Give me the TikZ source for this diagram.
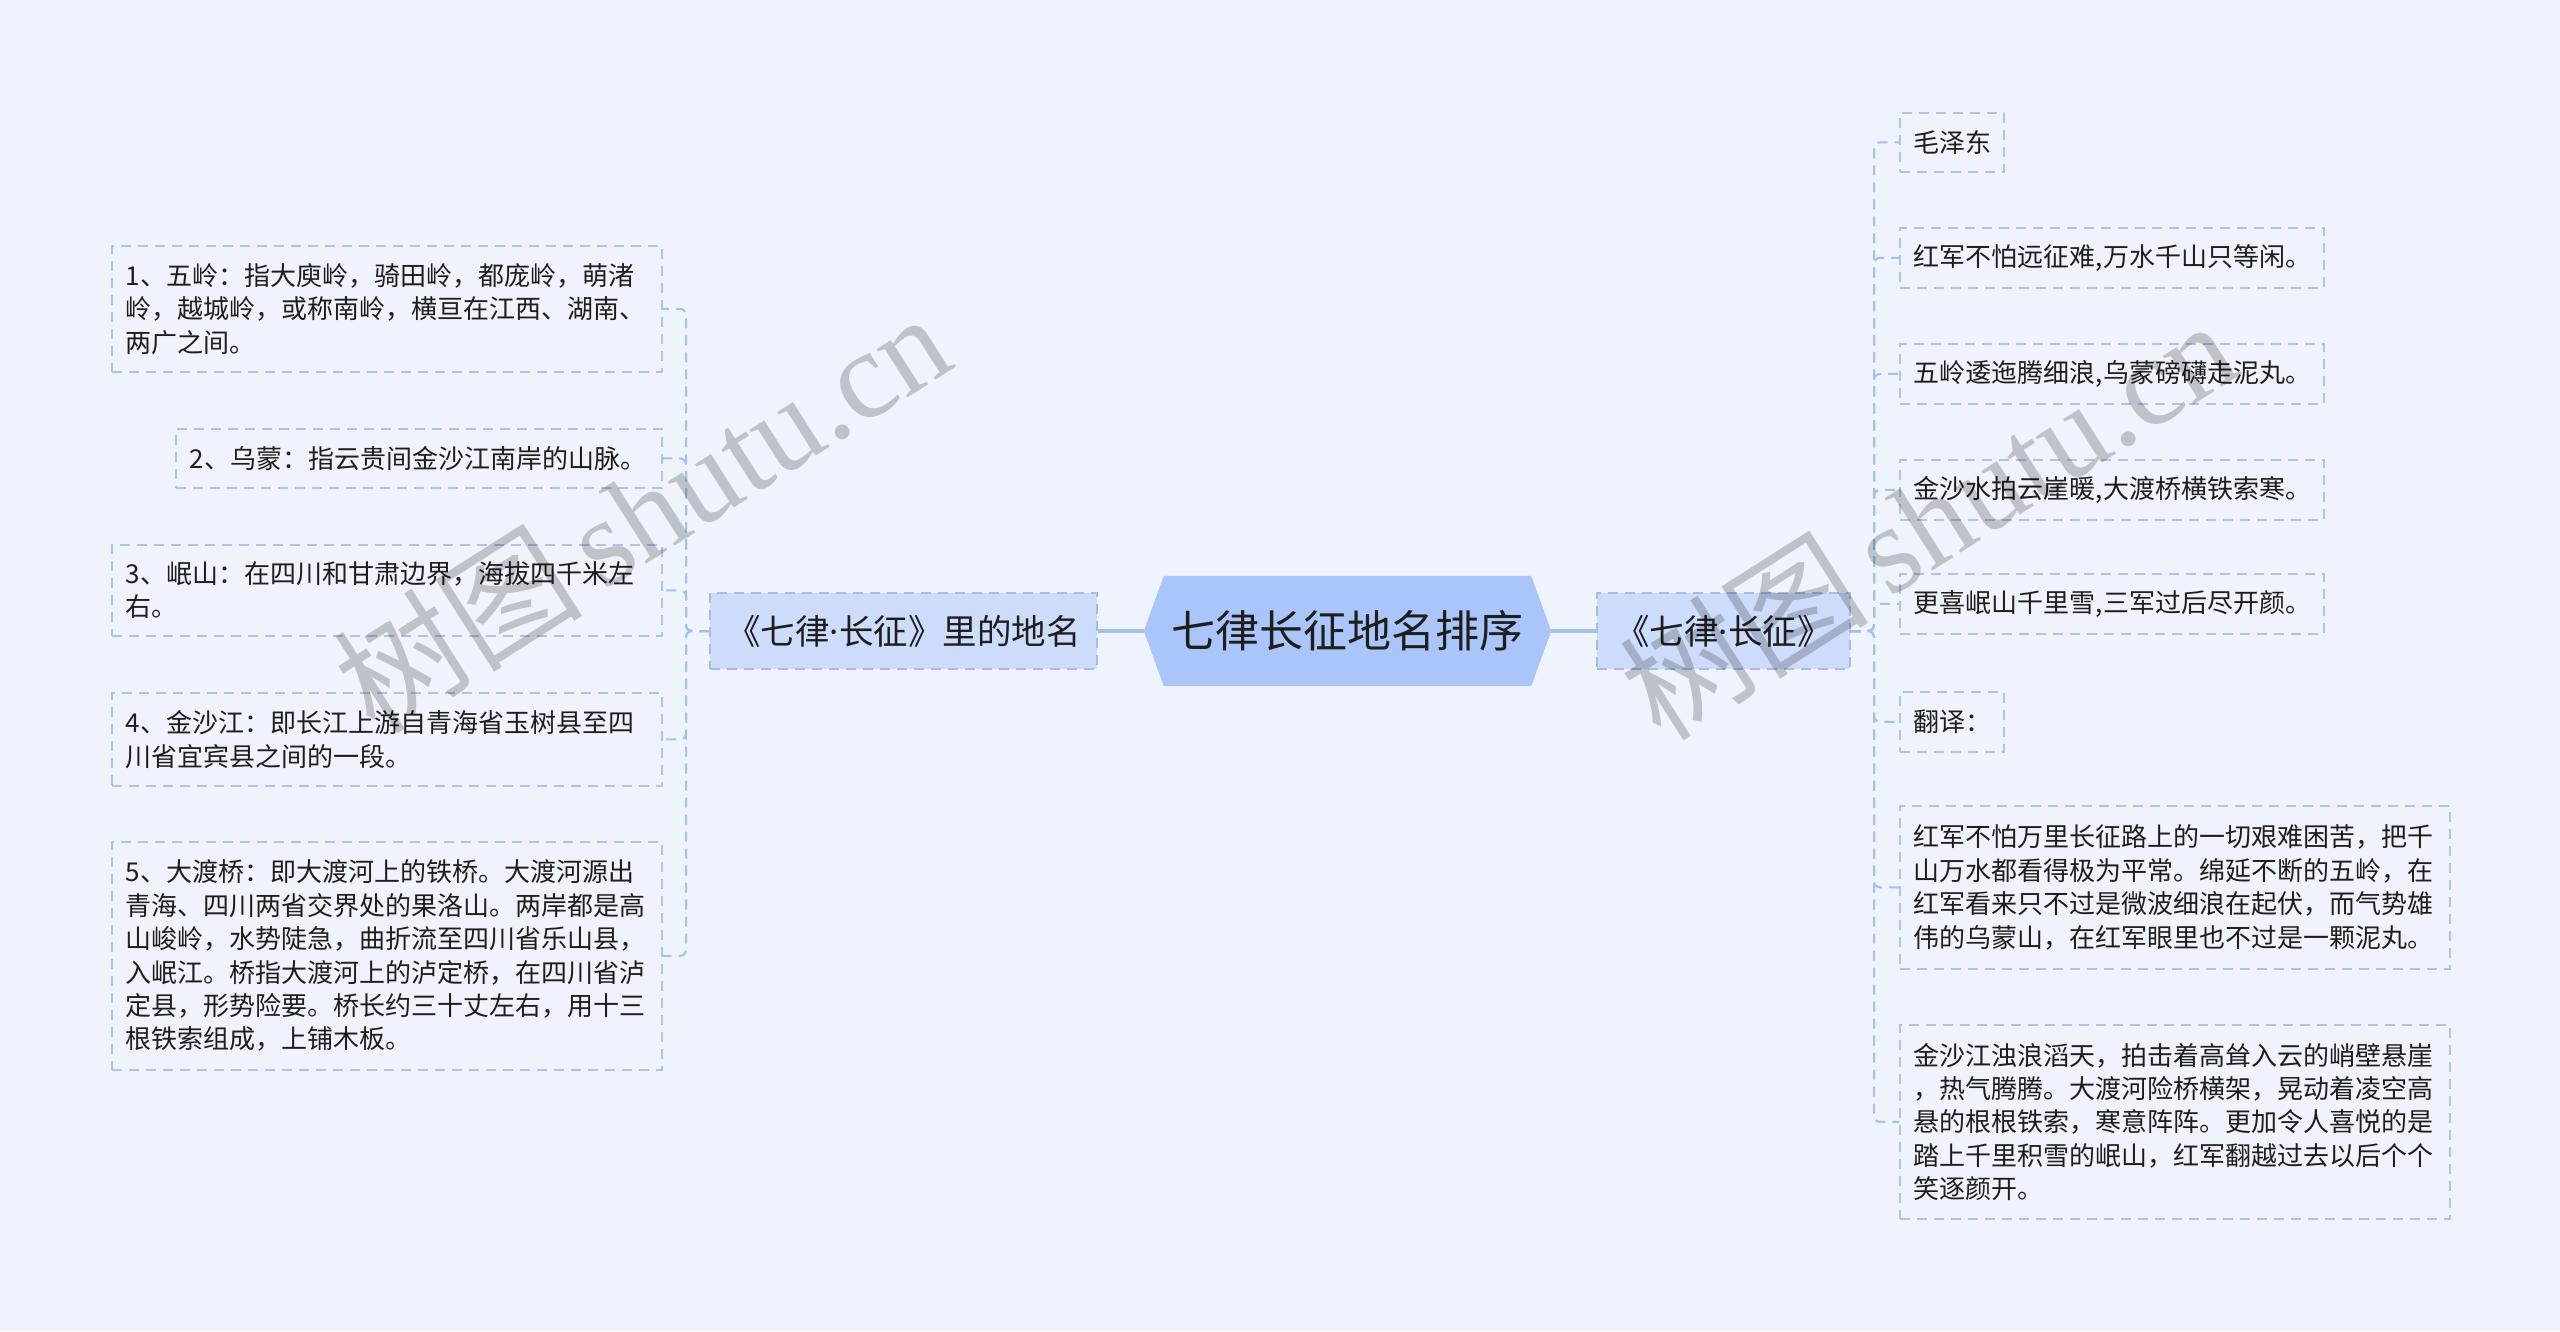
\documentclass[tikz,border=0pt]{standalone}
\usepackage{fontspec}
\setmainfont{Noto Sans CJK SC}
\newfontfamily\wmlatin{Liberation Serif}
\newfontfamily\latinf{Noto Sans}
\newcommand{\mdot}{{\latinf ·}}
\usetikzlibrary{backgrounds}
\definecolor{bgc}{HTML}{EEF3FC}
\definecolor{hexfill}{HTML}{A9C5F9}
\definecolor{lonefill}{HTML}{CDDCFB}
\definecolor{loneborder}{HTML}{A3BCEB}
\definecolor{leafborder}{HTML}{AEC3EC}
\definecolor{conncol}{HTML}{A6BFEC}
\definecolor{txtcol}{HTML}{1E1E1E}
\begin{document}
\begin{tikzpicture}[x=1pt,y=-1pt,
  dashpat/.style={dash pattern=on 10pt off 7pt},
  leaf/.style={draw=leafborder, line width=1.8pt, dashpat, anchor=north west,
    inner xsep=14pt, inner ysep=0pt, align=left, text=txtcol,
    font=\fontsize{26}{33.4}\selectfont},
  lone/.style={draw=loneborder, fill=lonefill, line width=1.8pt, dashpat,
    inner sep=0pt, text=txtcol, font=\fontsize{34.5}{40}\selectfont, minimum height=76pt},
  rootnode/.style={inner sep=0pt, minimum width=407pt, minimum height=110pt,
    text=txtcol, font=\fontsize{44}{52}\selectfont},
  mainconn/.style={draw=conncol, line width=3.2pt},
  subconn/.style={draw=conncol, line width=2pt, dashpat, rounded corners=6pt},
  wm/.style={text=black, text opacity=0.2, font=\fontsize{125}{130}\selectfont, inner sep=0pt, rotate=32.5}
]
\useasboundingbox (0,0) rectangle (2560,1331);

% root
\node[rootnode] (root) at (1347.5,631) {七律长征地名排序};
\begin{scope}[on background layer]
\fill[bgc] (0,0) rectangle (2560,1331);
\fill[hexfill] (root.west) -- ([xshift=20pt]root.north west) -- ([xshift=-20pt]root.north east)
  -- (root.east) -- ([xshift=-20pt]root.south east) -- ([xshift=20pt]root.south west) -- cycle;
\end{scope}

% level one
\node[lone, minimum width=387pt] (L) at (903.5,631) {《七律\mdot 长征》里的地名};
\node[lone, minimum width=253pt] (R) at (1723.5,631) {《七律\mdot 长征》};

\coordinate (spineL) at (686,631);
\coordinate (spineR) at (1874,631);

% left leaves
\node[leaf, text width=522pt, minimum height=126pt] (l1) at (111,245)
  {1、五岭：指大庾岭，骑田岭，都庞岭，萌渚\\岭，越城岭，或称南岭，横亘在江西、湖南、\\两广之间。};
\node[leaf, text width=458pt, minimum height=59pt] (l2) at (175,428)
  {2、乌蒙：指云贵间金沙江南岸的山脉。};
\node[leaf, text width=522pt, minimum height=91pt] (l3) at (111,544)
  {3、岷山：在四川和甘肃边界，海拔四千米左\\右。};
\node[leaf, text width=522pt, minimum height=93pt] (l4) at (111,692)
  {4、金沙江：即长江上游自青海省玉树县至四\\川省宜宾县之间的一段。};
\node[leaf, text width=522pt, minimum height=228pt] (l5) at (111,841)
  {5、大渡桥：即大渡河上的铁桥。大渡河源出\\青海、四川两省交界处的果洛山。两岸都是高\\山峻岭，水势陡急，曲折流至四川省乐山县，\\入岷江。桥指大渡河上的泸定桥，在四川省泸\\定县，形势险要。桥长约三十丈左右，用十三\\根铁索组成，上铺木板。};

% right leaves
\node[leaf, text width=76pt, minimum height=59pt] (r1) at (1899,112) {毛泽东};
\node[leaf, text width=396pt, minimum height=60pt] (r2) at (1899,227) {红军不怕远征难,万水千山只等闲。};
\node[leaf, text width=396pt, minimum height=60pt] (r3) at (1899,343) {五岭逶迤腾细浪,乌蒙磅礴走泥丸。};
\node[leaf, text width=396pt, minimum height=60pt] (r4) at (1899,459) {金沙水拍云崖暖,大渡桥横铁索寒。};
\node[leaf, text width=396pt, minimum height=60pt] (r5) at (1899,573) {更喜岷山千里雪,三军过后尽开颜。};
\node[leaf, text width=76pt, minimum height=60pt] (r6) at (1899,691) {翻译：};
\node[leaf, text width=522pt, minimum height=163pt] (r7) at (1899,805)
  {红军不怕万里长征路上的一切艰难困苦，把千\\山万水都看得极为平常。绵延不断的五岭，在\\红军看来只不过是微波细浪在起伏，而气势雄\\伟的乌蒙山，在红军眼里也不过是一颗泥丸。};
\node[leaf, text width=522pt, minimum height=194pt] (r8) at (1899,1024)
  {金沙江浊浪滔天，拍击着高耸入云的峭壁悬崖\\，热气腾腾。大渡河险桥横架，晃动着凌空高\\悬的根根铁索，寒意阵阵。更加令人喜悦的是\\踏上千里积雪的岷山，红军翻越过去以后个个\\笑逐颜开。};

% main connectors
\draw[mainconn] (root.west) -- (L.east);
\draw[mainconn] (root.east) -- (R.west);

% left sub connectors
\foreach \n in {l1,l2,l3,l4,l5}
  \draw[subconn] (L.west) -- (spineL) |- (\n.east);
% right sub connectors
\foreach \n in {r1,r2,r3,r4,r5,r6,r7,r8}
  \draw[subconn] (R.east) -- (spineR) |- (\n.west);

% watermarks
\node[wm] (wm1) at (641,511) {树图\,{\wmlatin shutu.cn}};
\node[wm] (wm2) at (1927,518) {树图\,{\wmlatin shutu.cn}};
\end{tikzpicture}
\end{document}
